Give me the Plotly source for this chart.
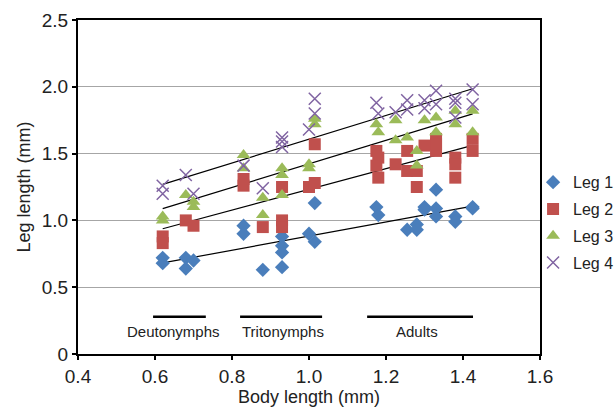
import numpy as np
import plotly.graph_objects as go

# ---- data (body length mm, leg length mm) ----
leg1_x = [0.62, 0.62, 0.68, 0.68, 0.70,
          0.83, 0.83, 0.88, 0.93, 0.93, 0.93, 0.93, 1.00, 1.015, 1.015,
          1.175, 1.18, 1.255, 1.28, 1.28, 1.30, 1.30, 1.33, 1.33, 1.33, 1.38, 1.38, 1.425, 1.425]
leg1_y = [0.72, 0.68, 0.72, 0.64, 0.70,
          0.96, 0.90, 0.63, 0.88, 0.81, 0.76, 0.65, 0.90, 0.84, 1.13,
          1.10, 1.04, 0.93, 0.97, 0.93, 1.10, 1.08, 1.23, 1.09, 1.03, 1.03, 0.99, 1.10, 1.09]

leg2_x = [0.62, 0.62, 0.68, 0.70,
          0.83, 0.83, 0.88, 0.93, 0.93, 0.93, 1.00, 1.015, 1.015,
          1.175, 1.18, 1.175, 1.18, 1.225, 1.255, 1.255, 1.28, 1.28, 1.30, 1.33, 1.33, 1.33, 1.38, 1.38, 1.38, 1.425, 1.425]
leg2_y = [0.88, 0.83, 1.00, 0.96,
          1.31, 1.26, 0.95, 1.25, 1.00, 0.95, 1.25, 1.28, 1.57,
          1.52, 1.47, 1.41, 1.32, 1.42, 1.52, 1.37, 1.37, 1.25, 1.56, 1.61, 1.52, 1.57, 1.47, 1.42, 1.32, 1.61, 1.52]

leg3_x = [0.62, 0.62, 0.68, 0.70, 0.70,
          0.83, 0.83, 0.88, 0.88, 0.93, 0.93, 0.93, 1.00, 1.00, 1.015, 1.015,
          1.175, 1.18, 1.225, 1.225, 1.255, 1.28, 1.28, 1.30, 1.33, 1.33, 1.38, 1.38, 1.425, 1.425]
leg3_y = [1.03, 1.00, 1.19, 1.14, 1.10,
          1.49, 1.39, 1.17, 1.04, 1.39, 1.34, 1.19, 1.42, 1.39, 1.76, 1.72,
          1.72, 1.66, 1.75, 1.60, 1.62, 1.52, 1.41, 1.75, 1.77, 1.66, 1.82, 1.72, 1.82, 1.66]

leg4_x = [0.62, 0.62, 0.68, 0.70,
          0.83, 0.88, 0.93, 0.93, 0.93, 1.00, 1.015, 1.015,
          1.175, 1.18, 1.225, 1.255, 1.255, 1.30, 1.30, 1.33, 1.33, 1.38, 1.38, 1.38, 1.425, 1.425]
leg4_y = [1.26, 1.20, 1.34, 1.20,
          1.41, 1.24, 1.62, 1.59, 1.55, 1.68, 1.91, 1.80,
          1.88, 1.80, 1.81, 1.90, 1.83, 1.90, 1.84, 1.97, 1.87, 1.91, 1.88, 1.77, 1.98, 1.87]

series_names = ["Leg 1", "Leg 2", "Leg 3", "Leg 4"]
stage_names = ["Deutonymphs", "Tritonymphs", "Adults"]
stage_x0 = [0.595, 0.821, 1.151]
stage_x1 = [0.732, 1.034, 1.426]
stage_label_x = [0.647, 0.932, 1.28]
stage_bar_y = 0.278
stage_label_y = 0.166

y_tickvals = [0, 0.5, 1.0, 1.5, 2.0, 2.5]
y_ticktext = ["0", "0.5", "1.0", "1.5", "2.0", "2.5"]
x_tickvals = [0.4, 0.6, 0.8, 1.0, 1.2, 1.4, 1.6]
x_ticktext = ["0.4", "0.6", "0.8", "1.0", "1.2", "1.4", "1.6"]

xs = [leg1_x, leg2_x, leg3_x, leg4_x]
ys = [leg1_y, leg2_y, leg3_y, leg4_y]
colors = ["#4a7ebb", "#c0504d", "#9bbb59", "#8064a2"]
symbols = ["diamond", "square", "triangle-up", "x-thin"]
sizes = [11, 12, 12, 12]

FONT = "Liberation Sans"
fig = go.Figure()

# trend lines (linear fits)
for x, y in zip(xs, ys):
    xa = np.array(x); ya = np.array(y)
    k, b = np.polyfit(xa, ya, 1)
    xl = np.array([xa.min(), xa.max()])
    fig.add_trace(go.Scatter(x=xl, y=k * xl + b, mode="lines",
                             line=dict(color="black", width=1.2),
                             showlegend=False, hoverinfo="skip"))

for i, (x, y) in enumerate(zip(xs, ys)):
    mk = dict(symbol=symbols[i], size=sizes[i], color=colors[i])
    if symbols[i] == "x-thin":
        mk["line"] = dict(color=colors[i], width=1.5)
    else:
        mk["line"] = dict(width=0)
    fig.add_trace(go.Scatter(x=x, y=y, mode="markers", name=series_names[i],
                             marker=mk, legendgroup=series_names[i]))

for name, x0, x1, lx in zip(stage_names, stage_x0, stage_x1, stage_label_x):
    fig.add_shape(type="line", xref="x", yref="y", x0=x0, x1=x1,
                  y0=stage_bar_y, y1=stage_bar_y, line=dict(color="black", width=2.5))
    fig.add_annotation(x=lx, y=stage_label_y, xref="x", yref="y", text=name,
                       showarrow=False, font=dict(size=15, color="#222", family=FONT))

fig.update_layout(
    width=616, height=410,
    margin=dict(l=78, r=76, t=20, b=56, autoexpand=False),
    paper_bgcolor="white", plot_bgcolor="white",
    font=dict(family=FONT, color="#222"),
    legend=dict(x=0.985, y=0.565, xanchor="left", yanchor="top",
                font=dict(size=16, family=FONT, color="#222"),
                tracegroupgap=3, traceorder="grouped",
                itemwidth=30, bgcolor="rgba(0,0,0,0)"),
)
fig.update_xaxes(range=[0.4, 1.6], tickvals=x_tickvals, ticktext=x_ticktext,
                 showline=True, linecolor="black", linewidth=2, mirror=True,
                 ticks="outside", ticklen=4, tickcolor="black", tickwidth=1.5,
                 showgrid=False, zeroline=False, automargin=False,
                 tickfont=dict(size=19, family=FONT, color="#222"),
                 title=dict(text="Body length (mm)", font=dict(size=18, family=FONT, color="#222"),
                            standoff=4))
fig.update_yaxes(range=[0, 2.5], tickvals=y_tickvals, ticktext=y_ticktext,
                 showline=True, linecolor="black", linewidth=2, mirror=True,
                 ticks="outside", ticklen=4, tickcolor="black", tickwidth=1.5,
                 showgrid=True, gridcolor="#a6a6a6", gridwidth=1, zeroline=False, automargin=False,
                 tickfont=dict(size=19, family=FONT, color="#222"),
                 title=dict(text="Leg length (mm)", font=dict(size=18, family=FONT, color="#222"),
                            standoff=6))

fig.write_html("out.html", config={"displayModeBar": False},
               post_script="document.body.style.margin='0';")
